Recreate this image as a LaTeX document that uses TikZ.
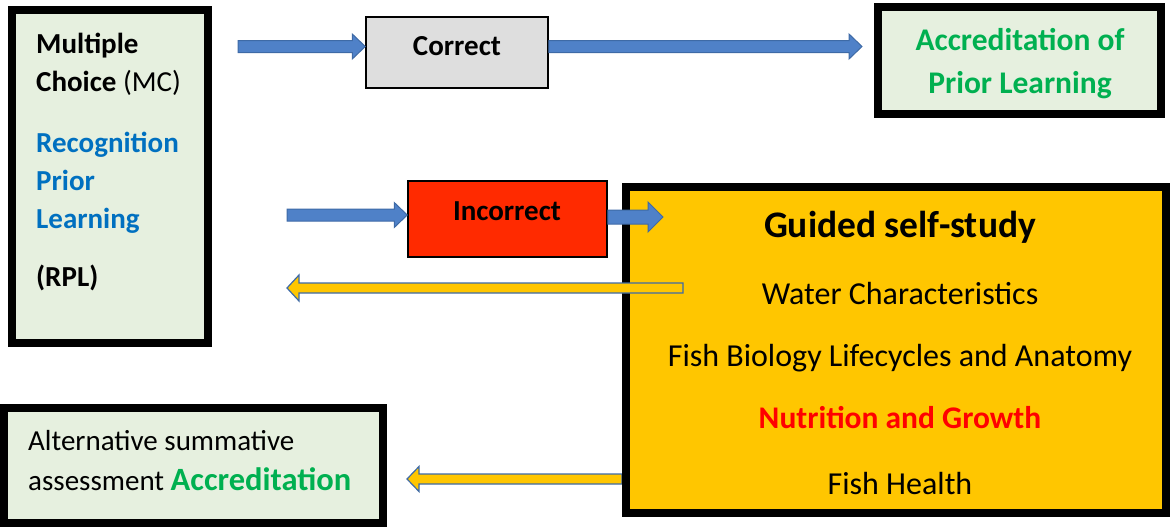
\documentclass[tikz,border=0pt]{standalone}
\usepackage{fontspec}
\setmainfont{Carlito}
\usetikzlibrary{calc,backgrounds}
\definecolor{boxgreen}{HTML}{E6F0DF}
\definecolor{boxgray}{HTML}{DEDEDE}
\definecolor{boxred}{HTML}{FF2A00}
\definecolor{boxyellow}{HTML}{FFC600}
\definecolor{arrblue}{HTML}{4F81C8}
\definecolor{arredge}{HTML}{3E6AA6}
\definecolor{txtblue}{HTML}{0070C0}
\definecolor{txtgreen}{HTML}{00B050}
\definecolor{txtred}{HTML}{FF0000}
\newcommand\rarrow[6]{\draw[#1] let \p1=(#2), \p2=(#3) in
  (\x1,\y1+#4pt) -- (\x2-#6pt,\y1+#4pt) -- (\x2-#6pt,\y1+#5pt) -- (\x2,\y1)
  -- (\x2-#6pt,\y1-#5pt) -- (\x2-#6pt,\y1-#4pt) -- (\x1,\y1-#4pt) -- cycle;}
\newcommand\larrow[6]{\draw[#1] let \p1=(#2), \p2=(#3) in
  (\x1,\y1+#4pt) -- (\x2+#6pt,\y1+#4pt) -- (\x2+#6pt,\y1+#5pt) -- (\x2,\y1)
  -- (\x2+#6pt,\y1-#5pt) -- (\x2+#6pt,\y1-#4pt) -- (\x1,\y1-#4pt) -- cycle;}
\tikzset{
  thickbox/.style={draw=black, line width=8pt, inner sep=0pt},
  thinbox/.style={draw=black, line width=1.5pt, inner sep=0pt},
  bluearrow/.style={fill=arrblue, draw=arredge, line width=1pt},
  yelarrow/.style={fill=boxyellow, draw=arredge, line width=1.2pt},
  txt/.style={inner sep=0pt, font=\fontsize{29}{35}\selectfont},
  btxt/.style={inner sep=0pt, font=\fontsize{29}{35}\selectfont\bfseries},
  gtxt/.style={inner sep=0pt, font=\fontsize{32}{38}\selectfont},
  gbtxt/.style={inner sep=0pt, font=\fontsize{31.5}{38}\selectfont\bfseries},
}
\begin{document}
\begin{tikzpicture}[x=1pt,y=-1pt]
\useasboundingbox (0,0) rectangle (1173,528);
% boxes
\node[thickbox, fill=boxgreen, minimum width=196pt, minimum height=333pt] (MC) at (110,176.5) {};
\node[thinbox, fill=boxgray, minimum width=182pt, minimum height=71pt] (Correct) at (457,52.5) {};
\node[thickbox, fill=boxgreen, minimum width=283pt, minimum height=107pt] (APL) at (1019.5,60.5) {};
\node[thinbox, fill=boxred, minimum width=199pt, minimum height=76pt] (Incorrect) at (507.5,219) {};
\node[thickbox, fill=boxyellow, minimum width=540pt, minimum height=326pt] (Guided) at (896,350) {};
\node[thickbox, fill=boxgreen, minimum width=379pt, minimum height=115pt] (Alt) at (193.5,465.5) {};
% coordinates for arrow free ends
\coordinate (a1s) at (238,46.5);
\coordinate (a2e) at (862,46.5);
\coordinate (a3s) at (287,215);
\coordinate (a4e) at (663,217);
\coordinate (a5s) at (683,288);
\coordinate (a5e) at (287,288);
\coordinate (a6e) at (407,479);
% arrows
\rarrow{bluearrow}{a1s}{Correct.west |- a1s}{6}{12.5}{13}
\rarrow{bluearrow}{Correct.east |- a2e}{a2e}{6}{12.5}{13}
\rarrow{bluearrow}{a3s}{Incorrect.west |- a3s}{6}{12.5}{13}
\rarrow{bluearrow}{Incorrect.east |- a4e}{a4e}{7}{15}{15}
\larrow{yelarrow}{a5s}{a5e}{5}{13}{12}
\begin{scope}[on background layer]
\larrow{yelarrow}{Guided.west |- a6e}{a6e}{5}{12.5}{12}
\end{scope}
% texts: left box
\node[btxt, anchor=base west] (t1) at (36,53) {Multiple};
\node[btxt, anchor=base west] (t2) at (36,91) {Choice \mdseries(MC)};
\node[btxt, anchor=base west, text=txtblue] (t3) at (36,152) {Recognition};
\node[btxt, anchor=base west, text=txtblue] (t4) at (36,190) {Prior};
\node[btxt, anchor=base west, text=txtblue] (t5) at (36,228) {Learning};
\node[btxt, anchor=base west] (t6) at (36,286) {(RPL)};
% correct / incorrect
\node[btxt, anchor=base] (tc) at (457,55) {Correct};
\node[btxt, anchor=base] (ti) at (507,220) {Incorrect};
% APL
\node[gbtxt, anchor=base, text=txtgreen] (ta1) at (1020,50) {Accreditation of};
\node[gbtxt, anchor=base, text=txtgreen] (ta2) at (1020,93) {Prior Learning};
% guided
\node[inner sep=0pt, font=\fontsize{37.5}{44}\selectfont\bfseries, anchor=base] (g0) at (900,237) {Guided self-study};
\node[gtxt, anchor=base] (g1) at (900,304) {Water Characteristics};
\node[gtxt, anchor=base] (g2) at (900,366) {Fish Biology Lifecycles and Anatomy};
\node[gbtxt, anchor=base, text=txtred] (g3) at (900,428) {Nutrition and Growth};
\node[gtxt, anchor=base] (g4) at (900,494) {Fish Health};
% alt
\node[txt, anchor=base west] (al1) at (28,450) {Alternative summative};
\node[txt, anchor=base west] (al2) at (28,490) {assessment \textcolor{txtgreen}{\fontsize{32.5}{38}\selectfont\bfseries Accreditation}};
\end{tikzpicture}
\end{document}
